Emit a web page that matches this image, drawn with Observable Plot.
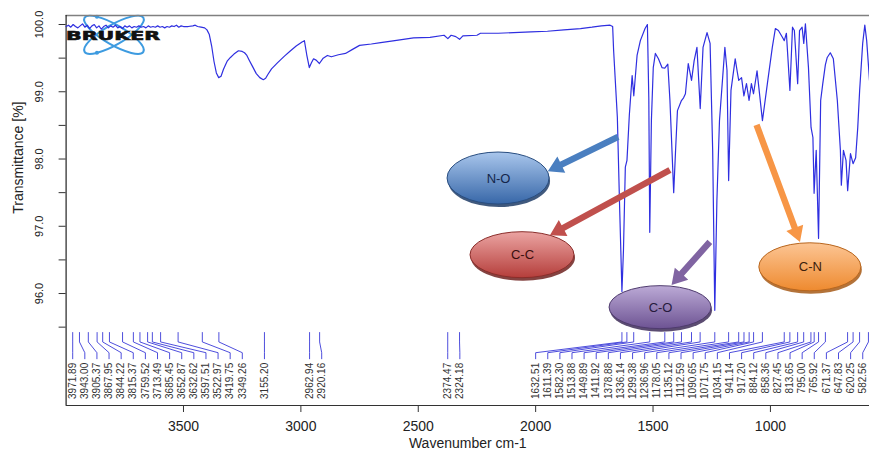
<!DOCTYPE html>
<html><head><meta charset="utf-8">
<script src="https://cdn.jsdelivr.net/npm/d3@7"></script>
<script src="https://cdn.jsdelivr.net/npm/@observablehq/plot@0.6"></script>
<style>html,body{margin:0;padding:0;background:#fff;} svg{display:block}</style>
</head><body><div id="chart"></div>
<script>
// ---------- data ----------
const spectrumPoints = [
[4000,99.97],[3990,99.99],[3980,99.96],[3970,100.00],[3960,99.97],[3950,99.95],[3940,99.98],[3930,100.01],[3920,99.96],[3910,99.99],[3900,99.94],[3890,99.98],[3880,100.00],[3870,99.95],[3860,99.98],[3850,99.93],[3840,99.97],[3830,99.99],[3820,99.95],[3810,99.98],[3800,99.96],[3790,99.99],[3780,99.95],[3770,99.97],[3760,99.94],[3750,99.98],[3740,99.96],[3730,99.98],[3720,99.95],[3710,99.97],[3700,99.96],[3690,99.98],[3680,99.96],[3670,99.97],[3660,99.95],[3650,99.98],[3640,99.96],[3630,99.97],[3620,99.96],[3610,99.98],[3600,99.96],[3590,99.97],[3580,99.95],[3570,99.97],[3560,99.96],[3550,99.98],[3540,99.97],[3530,99.99],[3520,99.96],[3510,99.98],[3500,99.97],[3480,99.97],[3460,99.98],[3450,99.99],[3440,99.97],[3425,99.96],[3410,99.95],[3400,99.92],[3390,99.85],[3380,99.68],[3370,99.45],[3360,99.28],[3350,99.21],[3340,99.23],[3330,99.33],[3320,99.41],[3313,99.46],[3300,99.51],[3285,99.56],[3266,99.61],[3250,99.60],[3240,99.58],[3230,99.54],[3220,99.47],[3205,99.37],[3190,99.27],[3175,99.21],[3160,99.18],[3150,99.20],[3140,99.26],[3125,99.34],[3100,99.43],[3070,99.53],[3044,99.61],[3020,99.68],[2995,99.74],[2985,99.76],[2975,99.55],[2964,99.36],[2955,99.43],[2946,99.49],[2935,99.47],[2921,99.42],[2905,99.50],[2887,99.54],[2870,99.52],[2840,99.55],[2810,99.57],[2780,99.63],[2750,99.69],[2700,99.71],[2660,99.73],[2600,99.76],[2520,99.80],[2450,99.81],[2390,99.84],[2374,99.79],[2360,99.84],[2340,99.82],[2324,99.78],[2310,99.83],[2250,99.84],[2235,99.87],[2160,99.87],[2094,99.88],[2020,99.89],[1950,99.90],[1880,99.92],[1809,99.94],[1760,99.96],[1720,99.98],[1683,99.99],[1672,99.97],
[1668,99.62],[1652,98.62],[1643,97.38],[1632.5,96.03],[1626,96.64],[1618,97.88],[1611,97.98],[1601,98.65],[1589,99.24],[1582,98.94],[1568,99.54],[1554,99.76],[1534,99.94],[1524,100.0],[1518,98.9],[1514,96.91],[1507,98.57],[1499,99.36],[1490,99.57],[1477,99.49],[1462,99.36],[1450,99.35],[1437,99.41],[1428,98.87],[1412,97.50],[1404,98.13],[1396,98.72],[1379,98.87],[1370,98.91],[1362,98.97],[1350,99.42],[1336,99.17],[1325,99.46],[1313,99.66],[1299,98.75],[1287,99.66],[1270,99.88],[1257,99.72],[1246,98.13],[1237,95.75],[1228,97.38],[1217,98.57],[1194,99.66],[1185,99.32],[1178,97.68],[1168,99.02],[1150,99.49],[1141,99.29],[1135,99.17],[1123,99.21],[1113,98.94],[1102,99.12],[1091,98.87],[1081,99.12],[1072,98.97],[1057,99.31],[1034,98.57],[1013,99.12],[992,99.66],[979,99.94],[966,99.91],[949,99.81],[941,99.76],[932,99.87],[917,99.02],[906,99.96],[898,99.91],[884,99.12],[876,99.91],[865,99.96],[858,99.72],[851,100.01],[838,99.36],[827,98.47],[819,98.32],[814,97.49],[805,98.13],[795,96.82],[786,98.87],[777,99.12],[766,99.40],[758,99.51],[745,99.58],[732,99.49],[715,98.87],[702,98.13],[698,97.61],[689,98.13],[678,97.98],[671,97.53],[659,98.08],[648,97.93],[637,98.02],[628,98.47],[620,99.02],[607,99.72],[598,99.99],[590,99.76],[578,99.17]
];
const peakLabels = ["3971.89","3943.00","3905.37","3867.95","3844.22","3815.37","3759.52","3713.49","3685.45","3652.87","3632.62","3597.51","3522.97","3419.75","3349.26","3155.20","2962.94","2920.16","2374.47","2324.18","1632.51","1611.39","1582.30","1513.88","1449.89","1411.92","1378.88","1336.14","1299.38","1236.96","1178.05","1135.12","1112.59","1090.65","1071.75","1034.15","941.14","917.20","884.12","858.36","827.45","813.65","795.00","765.92","671.37","647.83","620.25","582.56"];
const xTicks = [3500, 3000, 2500, 2000, 1500, 1000];
const yMajorTicks = [96, 97, 98, 99, 100];
const yMinorTicks = [95.5, 96.5, 97.5, 98.5, 99.5];
const bondLabels = ["N-O", "C-C", "C-O", "C-N"];
const bondWn = [2158, 2056, 1468, 830];
const bondT = [97.71, 96.57, 95.79, 96.39];
const arrowTailWn = [1647, 1426, 1256, 1057];
const arrowTailT = [98.32, 97.83, 96.76, 98.50];
const arrowTipWn = [1946, 1937, 1419, 872];
const arrowTipT = [97.81, 96.86, 96.12, 96.76];

// ---------- layout / style constants ----------
const xDomain = [4000, 578];
const yDomain = [94.335, 100.134];
const labelSpacingWn = 51.6;
const labelGroupStart = {"1632.51": 2000};
const peakTopT = 95.42, peakBendT = 95.28, peakShiftT = 95.12, peakEndT = 95.03, peakTextT = 94.97;
const bondStyle = [
  {light: "#a9c6ec", dark: "#3767a8", stroke: "#284d80", shadow: "#1f3c66", text: "#14264a", ry: 26, rx: 51},
  {light: "#eba4a2", dark: "#b53e3b", stroke: "#8a2d2a", shadow: "#6e2220", text: "#3a0e0e", ry: 23, rx: 52},
  {light: "#bcaad6", dark: "#6d5393", stroke: "#4f3b6e", shadow: "#3e2d58", text: "#261a3c", ry: 21.5, rx: 51},
  {light: "#fcc594", dark: "#ee8a2f", stroke: "#b8661e", shadow: "#a65a18", text: "#3a200c", ry: 24, rx: 51}
];
const arrowColors = ["#4a7fc0", "#c0504d", "#8064a2", "#f79646"];

// ---------- derived tables ----------
const spectrum = spectrumPoints.map(([wn, t]) => ({wn, t}));
let prev = Infinity, packed = false;
const peaks = peakLabels.map(s => {
  const wn = +s;
  let lw;
  if (labelGroupStart[s] !== undefined) { lw = labelGroupStart[s]; packed = true; }
  else if (packed) lw = prev - labelSpacingWn;
  else lw = Math.min(wn, prev - labelSpacingWn);
  prev = lw;
  return {label: s, wn, lw};
});
const connectors = peaks.flatMap((p, i) => [
  {i, x: p.wn, y: peakTopT}, {i, x: p.wn, y: peakBendT},
  {i, x: p.lw, y: peakShiftT}, {i, x: p.lw, y: peakEndT}
]);
const bonds = bondLabels.map((label, i) => ({label, wn: bondWn[i], t: bondT[i], i}));
const arrows = arrowColors.map((c, i) => ({x1: arrowTailWn[i], y1: arrowTailT[i], x2: arrowTipWn[i], y2: arrowTipT[i], c}));

// ---------- custom render helpers (use Plot scales) ----------
function logoMark() {
  return (index, scales) => {
    const {x, y} = scales;
    const cx = x(3794), cy = y(99.84);
    const g = d3.create("svg:g");
    [30, -30].forEach(a => {
      g.append("ellipse").attr("cx", cx).attr("cy", cy).attr("rx", 34).attr("ry", 10)
        .attr("fill", "none").attr("stroke", "#3d9be0").attr("stroke-width", 2)
        .attr("transform", `rotate(${a},${cx},${cy})`);
    });
    g.append("circle").attr("cx", cx - 17).attr("cy", cy - 18).attr("r", 2).attr("fill", "#3d9be0");
    g.append("circle").attr("cx", cx - 17).attr("cy", cy + 18).attr("r", 2).attr("fill", "#3d9be0");
    g.append("text").attr("x", x(xDomain[0]) + 0.5).attr("y", cy + 5).attr("text-anchor", "start")
      .attr("font-family", "DejaVu Sans, sans-serif").attr("font-weight", 900).attr("font-size", 12)
      .attr("textLength", 94).attr("lengthAdjust", "spacingAndGlyphs").attr("fill", "#111")
      .attr("stroke", "#111").attr("stroke-width", 0.6).text("BRUKER");
    return g.node();
  };
}
function ellipseMark() {
  return (index, scales) => {
    const {x, y} = scales;
    const g = d3.create("svg:g");
    const defs = g.append("defs");
    bonds.forEach((d, i) => {
      const s = bondStyle[i];
      const id = "bondgrad" + i;
      const lg = defs.append("linearGradient").attr("id", id).attr("x1", 0).attr("y1", 0).attr("x2", 0).attr("y2", 1);
      lg.append("stop").attr("offset", "0%").attr("stop-color", s.light);
      lg.append("stop").attr("offset", "100%").attr("stop-color", s.dark);
      const cx = x(d.wn), cy = y(d.t);
      g.append("ellipse").attr("cx", cx + 1).attr("cy", cy + 3).attr("rx", s.rx).attr("ry", s.ry).attr("fill", s.shadow).attr("opacity", 0.85);
      g.append("ellipse").attr("cx", cx).attr("cy", cy).attr("rx", s.rx).attr("ry", s.ry)
        .attr("fill", `url(#${id})`).attr("stroke", s.stroke).attr("stroke-width", 1);
    });
    return g.node();
  };
}
function arrowMark() {
  return (index, scales) => {
    const {x, y} = scales;
    const g = d3.create("svg:g");
    arrows.forEach(a => {
      const X1 = x(a.x1), Y1 = y(a.y1), X2 = x(a.x2), Y2 = y(a.y2);
      const dx = X2 - X1, dy = Y2 - Y1, L = Math.hypot(dx, dy);
      const ux = dx / L, uy = dy / L, nx = -uy, ny = ux;
      const hl = 15, hw = 9, sw = 3.2;
      const bx = X2 - ux * hl, by = Y2 - uy * hl;
      const pts = [
        [X1 + nx * sw, Y1 + ny * sw], [bx + nx * sw, by + ny * sw], [bx + nx * hw, by + ny * hw],
        [X2, Y2], [bx - nx * hw, by - ny * hw], [bx - nx * sw, by - ny * sw], [X1 - nx * sw, Y1 - ny * sw]
      ];
      g.append("polygon").attr("points", pts.map(p => p.join(",")).join(" ")).attr("fill", a.c);
    });
    return g.node();
  };
}

// ---------- plot ----------
const fontFamily = "Liberation Sans, Arial, sans-serif";
const chart = Plot.plot({
  width: 869, height: 454,
  marginLeft: 65.6, marginRight: 0, marginTop: 15, marginBottom: 49,
  style: {fontFamily, background: "#fff", color: "#222"},
  x: {domain: xDomain},
  y: {domain: yDomain},
  marks: [
    logoMark(),
    Plot.axisX({ticks: xTicks, tickFormat: d => String(d), tickSize: 7, tickPadding: 9, fontSize: 14, label: null, stroke: "#333"}),
    Plot.axisY({ticks: yMajorTicks, tickFormat: () => "", tickSize: 7, label: null, stroke: "#333"}),
    Plot.axisY({ticks: yMinorTicks, tickFormat: () => "", tickSize: 7, label: null, stroke: "#333"}),
    Plot.text(yMajorTicks, {x: xDomain[0], y: d => d, text: d => d3.format(".1f")(d), rotate: -90, dx: -27, fontSize: 11, fill: "#222"}),
    Plot.text(["Transmittance [%]"], {x: xDomain[0], y: 98.02, rotate: -90, dx: -48, fontSize: 14, fill: "#222"}),
    Plot.text(["Wavenumber cm-1"], {frameAnchor: "bottom", dy: 42, fontSize: 14, fill: "#222"}),
    Plot.ruleY([yDomain[1]], {stroke: "#808080", strokeWidth: 1.6}),
    Plot.ruleY([yDomain[0]], {stroke: "#333", strokeWidth: 1}),
    Plot.ruleX([xDomain[0]], {stroke: "#222", strokeWidth: 1.2}),
    Plot.line(connectors, {x: "x", y: "y", z: "i", stroke: "#3a3ad8", strokeWidth: 0.9}),
    Plot.text(peaks, {x: "lw", y: peakTextT, text: "label", rotate: -90, textAnchor: "end", fontSize: 10, fill: "#333"}),
    Plot.line(spectrum, {x: "wn", y: "t", stroke: "#2f2fe0", strokeWidth: 1.2}),
    arrowMark(),
    ellipseMark(),
    Plot.text(bonds, {x: "wn", y: "t", text: "label", fontSize: 13, fill: (d) => bondStyle[d.i].text})
  ]
});
document.getElementById("chart").appendChild(chart);
</script>
</body></html>
